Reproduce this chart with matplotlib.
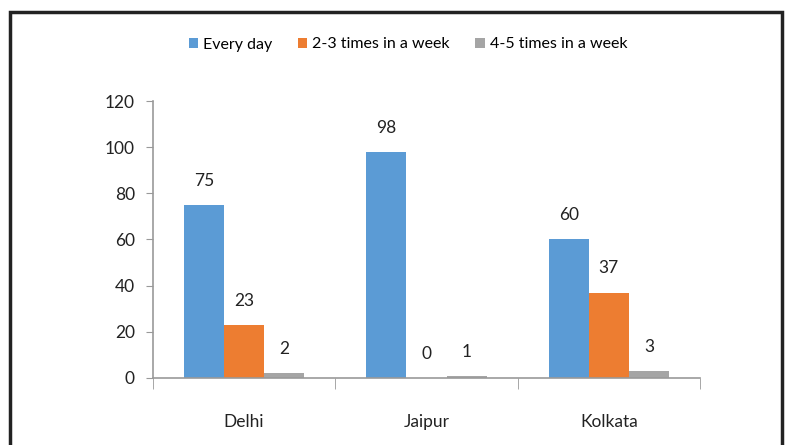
import numpy as np
import matplotlib.pyplot as plt
from matplotlib.patches import Rectangle

cities = ['Delhi', 'Jaipur', 'Kolkata']
series_names = ['Every day', '2-3 times in a week', '4-5 times in a week']
every_day = [75, 98, 60]
two_three = [23, 0, 37]
four_five = [2, 1, 3]
colors = ['#5B9BD5', '#ED7D31', '#A5A5A5']

plt.rcParams['font.family'] = ['Lato', 'DejaVu Sans']

fig = plt.figure(figsize=(7.92, 4.45), dpi=100)
ax = fig.add_axes([0.193, 0.1506, 0.691, 0.6224])

x = np.arange(len(cities))
w = 0.22
for i, (vals, name) in enumerate(zip([every_day, two_three, four_five], series_names)):
    pos = x + (i - 1) * w
    ax.bar(pos, vals, width=w, color=colors[i], label=name)
    for px, v in zip(pos, vals):
        ax.text(px, v + 7, str(v), ha='center', va='bottom', fontsize=12.5, color='#222222')

ax.set_xlim(-0.5, 2.5)
ax.set_ylim(0, 120)
ax.set_yticks(range(0, 121, 20))
ax.set_xticks(x)
ax.set_xticklabels(cities)
ax.set_xticks([-0.5, 0.5, 1.5, 2.5], minor=True)

for s in ['top', 'right']:
    ax.spines[s].set_visible(False)
for s in ['left', 'bottom']:
    ax.spines[s].set_color('#999999')
    ax.spines[s].set_linewidth(1.2)

ax.tick_params(axis='y', length=5, color='#999999', labelsize=12.5, pad=8, labelcolor='#222222')
ax.tick_params(axis='x', which='major', length=0, labelsize=12.5, pad=26, labelcolor='#222222')
ax.tick_params(axis='x', which='minor', length=8, color='#999999', direction='out')

ax.legend(loc='center', bbox_to_anchor=(0.515, 0.9), bbox_transform=fig.transFigure,
          ncol=3, frameon=False, fontsize=11.5, handlelength=0.6, handleheight=0.6,
          handletextpad=0.3, columnspacing=1.6)

fig.patches.append(Rectangle((9.5 / 792, -0.05), (782 - 9.5) / 792, 1.05 - 12 / 445,
                             transform=fig.transFigure, fill=False,
                             edgecolor='#222222', linewidth=2.5))

fig.savefig('out.png', dpi=100)
